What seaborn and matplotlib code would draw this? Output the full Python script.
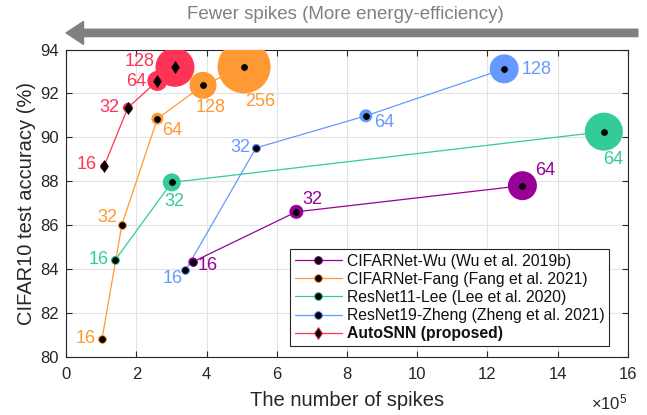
import matplotlib
matplotlib.use("Agg")
import matplotlib.pyplot as plt
from matplotlib.lines import Line2D
import numpy as np
import pandas as pd
import seaborn as sns

# ---------------- data ----------------
series_names = [
    "CIFARNet-Wu (Wu et al. 2019b)",
    "CIFARNet-Fang (Fang et al. 2021)",
    "ResNet11-Lee (Lee et al. 2020)",
    "ResNet19-Zheng (Zheng et al. 2021)",
    "AutoSNN (proposed)",
]

wu_channels = [16, 32, 64]
wu_spikes = [3.61, 6.56, 13.00]          # x 1e5
wu_acc = [84.33, 86.61, 87.80]
wu_bubble = [9, 14, 29]

fang_channels = [16, 32, 64, 128, 256]
fang_spikes = [1.02, 1.59, 2.60, 3.90, 5.07]
fang_acc = [80.80, 86.03, 90.85, 92.37, 93.21]
fang_bubble = [7, 7, 12, 27, 53]

lee_channels = [16, 32, 64]
lee_spikes = [1.40, 3.01, 15.32]
lee_acc = [84.42, 87.95, 90.26]
lee_bubble = [8, 18, 38]

zheng_channels = [16, 32, 64, 128]
zheng_spikes = [3.40, 5.41, 8.54, 12.48]
zheng_acc = [83.94, 89.52, 90.98, 93.12]
zheng_bubble = [7, 8, 13, 29]

auto_channels = [16, 32, 64, 128]
auto_spikes = [1.08, 1.76, 2.60, 3.10]
auto_acc = [88.68, 91.35, 92.57, 93.19]
auto_bubble = [8, 10, 20, 39]

x_ticks = [0, 2, 4, 6, 8, 10, 12, 14, 16]
y_ticks = [80, 82, 84, 86, 88, 90, 92, 94]

# ---------------- style ----------------
sns.set_theme(style="ticks")
plt.rcParams["font.family"] = ["Liberation Sans", "DejaVu Sans"]
plt.rcParams["mathtext.fontset"] = "custom"
plt.rcParams["mathtext.rm"] = "Liberation Sans"
plt.rcParams["mathtext.it"] = "Liberation Sans:italic"

colors = ["#990099", "#FF9933", "#33CC99", "#6699FF", "#FF3355"]
markers = ["o", "o", "o", "o", "d"]
text_col = "#262626"
DOT = 5.6
DIAM = 6.0

# label offsets in pixels (dx, dy, ha, va) per point
label_layout = [
    [(5, -4, "left", "center"), (6, 12, "left", "center"), (13, 15, "left", "center")],
    [(-6, 1, "right", "center"), (-5, 7, "right", "center"), (5, -12, "left", "center"),
     (8, -22, "center", "center"), (16, -35, "center", "center")],
    [(-7, 0, "right", "center"), (3, -19, "center", "center"), (9, -28, "center", "center")],
    [(-3, -8, "right", "center"), (-6, 0, "right", "center"), (8, -7, "left", "center"),
     (17, -1, "left", "center")],
    [(-7, 2, "right", "center"), (-9, 0, "right", "center"), (-11, -1, "right", "center"),
     (-20, 6, "right", "center")],
]

groups = [
    (wu_channels, wu_spikes, wu_acc, wu_bubble),
    (fang_channels, fang_spikes, fang_acc, fang_bubble),
    (lee_channels, lee_spikes, lee_acc, lee_bubble),
    (zheng_channels, zheng_spikes, zheng_acc, zheng_bubble),
    (auto_channels, auto_spikes, auto_acc, auto_bubble),
]

fig = plt.figure(figsize=(6.47, 4.15), dpi=100)
ax = fig.add_axes([0.1022, 0.1398, 0.9702 - 0.1022, 0.8807 - 0.1398])

for i, (ch, xs, ys, bub) in enumerate(groups):
    df = pd.DataFrame({"x": xs, "y": ys})
    sns.lineplot(data=df, x="x", y="y", sort=False, color=colors[i], lw=0.9,
                 ax=ax, zorder=2, legend=False)
    ax.scatter(xs, ys, s=(np.array(bub) * 0.72) ** 2, color=colors[i],
               edgecolor="none", zorder=3)
    ax.plot(xs, ys, ls="none", marker=markers[i], color="black",
            markersize=DIAM if markers[i] == "d" else DOT,
            markeredgecolor=colors[i] if markers[i] == "o" else "black",
            markeredgewidth=0.7 if markers[i] == "o" else 0.4, zorder=4)
    for j, c in enumerate(ch):
        dx, dy, ha, va = label_layout[i][j]
        ax.annotate(str(c), (xs[j], ys[j]), xytext=(dx, dy), textcoords="offset pixels",
                    ha=ha, va=va, color=colors[i], fontsize=13, zorder=5)

ax.set_xlim(0, 16)
ax.set_ylim(80, 94)
ax.set_xticks(x_ticks)
ax.set_yticks(y_ticks)
ax.grid(True, color="#e3e3e3", lw=0.8)
ax.set_axisbelow(True)
ax.tick_params(direction="in", top=True, right=True, length=4, width=0.8,
               labelsize=12, colors=text_col, labelcolor=text_col)
ax.tick_params(axis="x", pad=7)
ax.tick_params(axis="y", pad=5)
for sp in ax.spines.values():
    sp.set_color("#262626")
    sp.set_linewidth(0.8)

ax.set_xlabel("The number of spikes", fontsize=14.5, color=text_col, labelpad=7)
ax.set_ylabel("CIFAR10 test accuracy (%)", fontsize=14.5, color=text_col, labelpad=3)
ax.text(1.0, -0.172, r"$\times 10^5$", transform=ax.transAxes, ha="right", va="baseline",
        fontsize=12, color=text_col)

# arrow and headline
ax.annotate("", xy=(0.0, 1.054), xytext=(1.018, 1.054), xycoords="axes fraction",
            textcoords="axes fraction", annotation_clip=False,
            arrowprops=dict(width=5.3, headwidth=16.5, headlength=12.5, color="#808080",
                            shrink=0))
ax.text(0.497, 1.113, "Fewer spikes (More energy-efficiency)", transform=ax.transAxes,
        ha="center", va="center", fontsize=13.5, color="#808080")

handles = []
for i, name in enumerate(series_names):
    handles.append(Line2D([0], [0], color=colors[i], lw=0.9, marker=markers[i],
                          markerfacecolor="black",
                          markeredgecolor=colors[i],
                          markersize=DIAM if markers[i] == "d" else DOT,
                          markeredgewidth=0.7))
leg = ax.legend(handles, series_names, loc="lower right",
                bbox_to_anchor=(0.9667, 0.0358), borderaxespad=0, fontsize=11.3,
                frameon=True, fancybox=False, framealpha=1, edgecolor="#262626",
                handlelength=3.0, handletextpad=0.32, labelspacing=0.2,
                borderpad=0.3)
leg.get_frame().set_linewidth(0.8)
for t in leg.get_texts():
    t.set_color("#111111")
leg.get_texts()[-1].set_fontweight("bold")

fig.savefig("out.png", dpi=100)
